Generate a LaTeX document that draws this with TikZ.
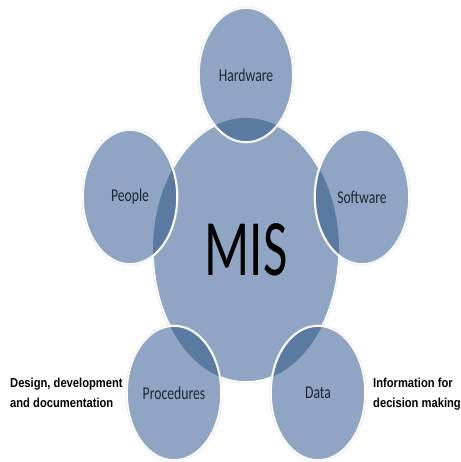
\documentclass[tikz,border=0pt]{standalone}
\usepackage{fontspec}
\setmainfont{Carlito}
\newfontfamily\misfont[FakeStretch=0.66]{Carlito}
\newfontfamily\bubfont[FakeStretch=0.76]{Carlito}
\newfontfamily\labelfont[FakeStretch=0.86]{Liberation Sans Bold}
\usetikzlibrary{shapes.geometric}
\definecolor{misfill}{HTML}{8FA5C3}
\definecolor{misdark}{HTML}{5A7AA2}
\definecolor{mistext}{HTML}{1E2633}
\begin{document}
\begin{tikzpicture}[x=1pt,y=-1pt,
  bubble/.style={ellipse, fill=misfill, inner sep=0pt, outer sep=0pt,
    minimum width=94pt, minimum height=134pt,
    font=\bubfont\fontsize{18}{20}\selectfont, text=mistext},
  rim/.style={draw=white, line width=1.6pt},
  rimshade/.style={draw=black!10, line width=2.8pt},
  side/.style={anchor=north west, align=left, inner sep=0pt,
    font=\labelfont\fontsize{13}{20}\selectfont, text=black}]
\useasboundingbox (0,0) rectangle (460,462);
% central
\draw[rimshade] (246,250) ellipse [x radius=93, y radius=132];
\node[bubble, minimum width=186pt, minimum height=264pt, rim,
  font=\misfont\fontsize{80}{82}\selectfont, text=black] (mis) at (246,250) {MIS};
% outer bubbles
\foreach \p in {{(246,75)},{(130,197)},{(362,197)},{(174,393)},{(318,393)}}{
  \draw[rimshade] \p ellipse [x radius=47, y radius=67];
}
\node[bubble] (hw) at (246,75) {Hardware};
\node[bubble] (pe) at (130,197) {People};
\node[bubble] (sw) at (362,197) {Software};
\node[bubble] (pr) at (174,393) {Procedures};
\node[bubble] (da) at (318,393) {Data};
% overlaps
\begin{scope}
  \clip (mis.center) ellipse [x radius=93, y radius=132];
  \foreach \n in {hw,pe,sw,pr,da}{
    \fill[misdark] (\n.center) ellipse [x radius=47, y radius=67];
  }
\end{scope}
% rims of outer bubbles
\foreach \n in {hw,pe,sw,pr,da}{
  \draw[rim] (\n.center) ellipse [x radius=47, y radius=67];
}
% side labels
\node[side] (dl) at (10,378) {Design, development\\and documentation};
\node[side] (il) at (373,378) {Information for\\decision making};
\end{tikzpicture}
\end{document}
